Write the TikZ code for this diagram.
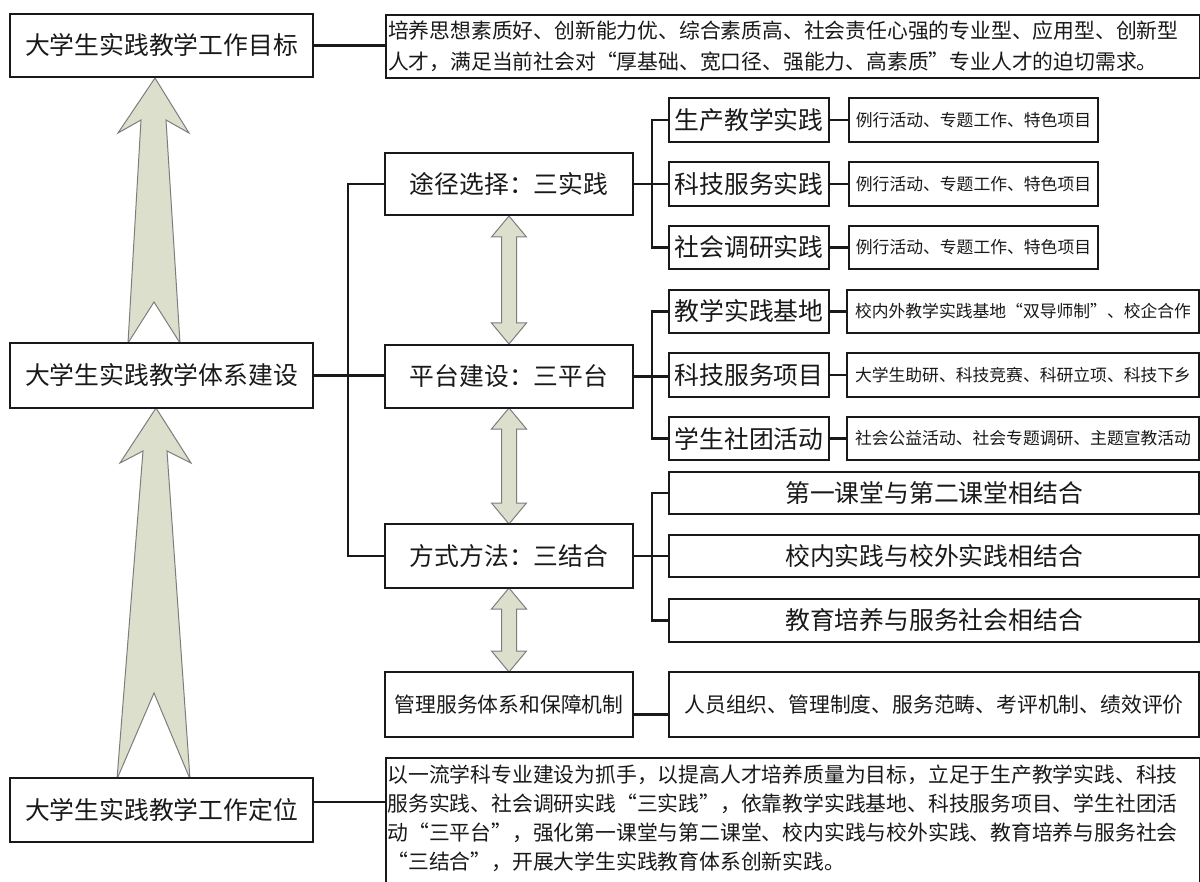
\documentclass[tikz,border=0pt]{standalone}
\usepackage{fontspec}
\newfontfamily\cjk{Noto Sans CJK SC}
\usetikzlibrary{calc}
\definecolor{arrfill}{RGB}{221,223,205}
\definecolor{arrline}{RGB}{125,125,125}
\definecolor{ink}{RGB}{25,25,25}
\tikzset{
 bx/.style={draw=ink, line width=1.1pt, fill=white, inner sep=0pt, text=ink},
 fa/.style={font=\cjk\fontsize{12.4pt}{15pt}\selectfont},
 fb/.style={font=\cjk\fontsize{10.4pt}{15.5pt}\selectfont},
 fbj/.style={font=\cjk\fontsize{10.4pt}{14.5pt}\selectfont},
 fc/.style={font=\cjk\fontsize{8.4pt}{10pt}\selectfont},
 conn/.style={draw=ink, line width=1.1pt},
 bigarrow/.style={fill=arrfill, draw=arrline, line width=0.5pt},
}
\newcommand\mybox[7]{%
 \pgfmathsetmacro\bw{(#5-#3)*0.5}%
 \pgfmathsetmacro\bh{(#6-#4)*0.5}%
 \node[bx,#1,minimum width=\bw pt,minimum height=\bh pt] (#2) at ({(#3+#5)/2},{(#4+#6)/2}) {#7};}
\newcommand\dblarrow[3]{%
 \draw[bigarrow] (#1,#2) -- ({#1+17.5},{#2+21}) -- ({#1+7.5},{#2+21}) -- ({#1+7.5},{#3-21})
  -- ({#1+17.5},{#3-21}) -- (#1,#3) -- ({#1-17.5},{#3-21}) -- ({#1-7.5},{#3-21})
  -- ({#1-7.5},{#2+21}) -- ({#1-17.5},{#2+21}) -- cycle;}
\begin{document}
\begin{tikzpicture}[x=0.5pt,y=-0.5pt]
\useasboundingbox (0,0) rectangle (1200,882);
\fill[white] (0,0) rectangle (1200,882);
% big upward arrows
\draw[bigarrow] (155,78) -- (189,133) -- (166,120) -- (180,343) -- (154,302) -- (128,343) -- (141,120) -- (118,133) -- cycle;
\draw[bigarrow] (156,408) -- (191,463) -- (167,451) -- (190,779) -- (154,693) -- (117,779) -- (143,451) -- (120,463) -- cycle;
% double arrows
\dblarrow{509}{216}{344}
\dblarrow{509}{408}{524}
\dblarrow{509}{588}{672}
% left column
\mybox{fa}{A}{10}{14}{313}{77}{大学生实践教学工作目标}
\mybox{fa}{C}{10}{343}{313}{408}{大学生实践教学体系建设}
\mybox{fa}{D}{10}{778}{313}{842}{大学生实践教学工作定位}
% top description
\node[bx,fb,anchor=north west,minimum height=31.5pt,text width=405pt,inner xsep=1pt,align=left] (B) at (385,14)
 {培养思想素质好、创新能力优、综合素质高、社会责任心强的专业型、应用型、创新型\\人才，满足当前社会对“厚基础、宽口径、强能力、高素质”专业人才的迫切需求。};
% middle column
\mybox{fa}{E}{385}{153}{633}{215}{途径选择：三实践}
\mybox{fa}{F}{385}{345}{633}{408}{平台建设：三平台}
\mybox{fa}{G}{385}{524}{633}{588}{方式方法：三结合}
\mybox{fb}{H}{385}{672}{633}{737}{管理服务体系和保障机制}
% E branch
\mybox{fa}{E1}{669}{98}{829}{142}{生产教学实践}
\mybox{fa}{E2}{669}{162}{829}{206}{科技服务实践}
\mybox{fa}{E3}{669}{226}{829}{269}{社会调研实践}
\mybox{fc}{E1t}{849}{98}{1098}{142}{例行活动、专题工作、特色项目}
\mybox{fc}{E2t}{849}{162}{1098}{206}{例行活动、专题工作、特色项目}
\mybox{fc}{E3t}{849}{226}{1098}{269}{例行活动、专题工作、特色项目}
% F branch
\mybox{fa}{F1}{669}{290}{829}{333}{教学实践基地}
\mybox{fa}{F2}{669}{353}{829}{397}{科技服务项目}
\mybox{fa}{F3}{669}{417}{829}{460}{学生社团活动}
\mybox{fc}{F1t}{847}{290}{1199}{333}{校内外教学实践基地“双导师制”、校企合作}
\mybox{fc}{F2t}{847}{353}{1199}{397}{大学生助研、科技竞赛、科研立项、科技下乡}
\mybox{fc}{F3t}{847}{417}{1199}{460}{社会公益活动、社会专题调研、主题宣教活动}
% G branch
\mybox{fa}{G1}{669}{472}{1199}{514}{第一课堂与第二课堂相结合}
\mybox{fa}{G2}{669}{535}{1199}{577}{校内实践与校外实践相结合}
\mybox{fa}{G3}{669}{599}{1199}{642}{教育培养与服务社会相结合}
% H branch
\mybox{fb}{I}{669}{672}{1199}{737}{人员组织、管理制度、服务范畴、考评机制、绩效评价}
% bottom description
\node[bx,anchor=north west,minimum width=407pt,minimum height=70pt] (J) at (385,757) {};
\node[fbj,anchor=north west,align=left,inner sep=0pt,text=ink] (Jt) at (387,764)
 {以一流学科专业建设为抓手，以提高人才培养质量为目标，立足于生产教学实践、科技\\服务实践、社会调研实践“三实践”，依靠教学实践基地、科技服务项目、学生社团活\\动“三平台”，强化第一课堂与第二课堂、校内实践与校外实践、教育培养与服务社会\\“三结合”，开展大学生实践教育体系创新实践。};
% connectors
\coordinate (cbr) at (348,376);
\coordinate (rbr) at (652,376);
\draw[conn] (A.east) -- (B.west |- A.east);
\draw[conn] (C.east) -- (F.west |- C.east);
\draw[conn] (E.west) -- (E.west -| cbr) -- (G.west -| cbr) -- (G.west);
\draw[conn] (E.east) -- (E2.west);
\draw[conn] (E1.west) -- (E1.west -| rbr) -- (E3.west -| rbr) -- (E3.west);
\draw[conn] (F.east) -- (F2.west |- F.east);
\draw[conn] (F1.west) -- (F1.west -| rbr) -- (F3.west -| rbr) -- (F3.west);
\draw[conn] (G.east) -- (G2.west |- G.east);
\draw[conn] (G1.west) -- (G1.west -| rbr) -- (G3.west -| rbr) -- (G3.west);
\draw[conn] ([yshift=-5pt]H.east) -- ([yshift=-5pt]H.east -| I.west);
\draw[conn] ([yshift=4pt]D.east) -- ([yshift=4pt]D.east -| J.west);
\draw[conn] (E1.east) -- (E1t.west);
\draw[conn] (E2.east) -- (E2t.west);
\draw[conn] (E3.east) -- (E3t.west);
\draw[conn] (F1.east) -- (F1t.west);
\draw[conn] (F2.east) -- (F2t.west);
\draw[conn] (F3.east) -- (F3t.west);
\end{tikzpicture}
\end{document}
